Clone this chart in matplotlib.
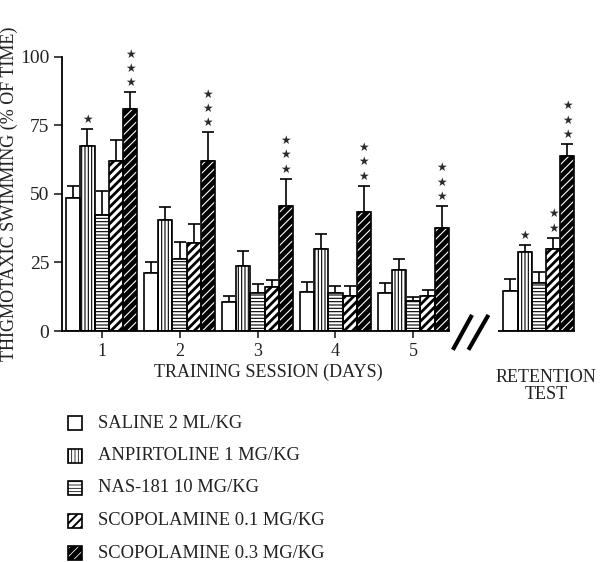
import numpy as np
import matplotlib
matplotlib.use('Agg')
from matplotlib import pyplot as plt
from matplotlib.patches import Rectangle

plt.rcParams['font.family'] = ['Liberation Serif', 'DejaVu Serif']
plt.rcParams['hatch.linewidth'] = 0.8

# データ
sessions = ['1', '2', '3', '4', '5']
groups = ['SALINE 2 ML/KG', 'ANPIRTOLINE 1 MG/KG', 'NAS-181 10 MG/KG',
          'SCOPOLAMINE 0.1 MG/KG', 'SCOPOLAMINE 0.3 MG/KG']
# 平均値 (5 セッション + retention)
saline = [48.6, 21.3, 10.7, 14.2, 13.7, 14.7]
anpirtoline = [67.4, 40.3, 23.8, 29.8, 22.3, 28.8]
nas181 = [42.3, 26.3, 13.7, 13.7, 10.8, 17.4]
scop01 = [61.9, 32.0, 15.9, 12.8, 12.8, 29.8]
scop03 = [80.9, 61.9, 45.4, 43.4, 37.5, 63.9]
# エラーバー上端
saline_top = [52.7, 25.0, 12.9, 18.0, 17.5, 19.0]
anpirtoline_top = [73.6, 45.1, 29.0, 35.5, 26.4, 31.5]
nas181_top = [51.0, 32.6, 17.2, 16.5, 12.5, 21.4]
scop01_top = [69.6, 39.0, 18.6, 16.5, 15.1, 34.0]
scop03_top = [87.1, 72.5, 55.5, 53.0, 45.6, 68.2]
# 有意差の星の数
saline_stars = [0, 0, 0, 0, 0, 0]
anpirtoline_stars = [1, 0, 0, 0, 0, 1]
nas181_stars = [0, 0, 0, 0, 0, 0]
scop01_stars = [0, 0, 0, 0, 0, 2]
scop03_stars = [3, 3, 3, 3, 3, 3]

means = [saline, anpirtoline, nas181, scop01, scop03]
tops = [saline_top, anpirtoline_top, nas181_top, scop01_top, scop03_top]
stars = [saline_stars, anpirtoline_stars, nas181_stars, scop01_stars, scop03_stars]

# スタイル
styles = [
    dict(fc='white', hatch=None, hc='black', hlw=0.8),
    dict(fc='white', hatch='|||||', hc='black', hlw=0.8),
    dict(fc='white', hatch='-----', hc='black', hlw=0.8),
    dict(fc='white', hatch='////', hc='black', hlw=2.0),
    dict(fc='black', hatch='////', hc='white', hlw=0.8),
]

x = np.array([1, 2, 3, 4, 5, 6.61])
w = 0.182

fig = plt.figure(figsize=(6, 5.62), dpi=100)
ax = fig.add_axes([62 / 600, 1 - 331 / 562, (577 - 62) / 600, (331 - 56.7) / 562])

for i in range(5):
    xi = x + (i - 2) * w
    st = styles[i]
    with plt.rc_context({'hatch.linewidth': st['hlw'], 'hatch.color': st['hc']}):
        ax.bar(xi, means[i], w, color=st['fc'], edgecolor=st['hc'], hatch=st['hatch'],
               linewidth=0, zorder=2)
    ax.bar(xi, means[i], w, fill=False, edgecolor='black', linewidth=1.2, zorder=3)
    err = np.array(tops[i]) - np.array(means[i])
    ax.errorbar(xi, means[i], yerr=[np.zeros_like(err), err], fmt='none',
                ecolor='black', elinewidth=1.2, capsize=4, capthick=1.2, zorder=1)
    for j in range(len(x)):
        for k in range(stars[i][j]):
            ax.text(xi[j], tops[i][j] + 3.5 + k * 5.2, '\u2605', ha='center', va='center',
                    fontsize=8.5, color='#2a2a2a', family='DejaVu Sans', clip_on=False)

# 軸設定
ax.set_xlim(0.491, 7.1)
ax.set_ylim(0, 100)
for s in ['top', 'right', 'bottom']:
    ax.spines[s].set_visible(False)
ax.spines['left'].set_bounds(0, 100)
ax.spines['left'].set_linewidth(1.3)
ax.set_yticks([0, 25, 50, 75, 100])
ax.set_xticks(x[:5])
ax.set_xticklabels(sessions)
ax.tick_params(axis='y', length=6, width=1.2, labelsize=14, pad=3, colors='#222222')
ax.tick_params(axis='x', length=5, width=1.2, labelsize=13, pad=4, colors='#222222')
ax.hlines(0, 0.491, 5.466, color='black', linewidth=1.3, clip_on=False, zorder=4)
ax.hlines(0, 6.08, 7.08, color='black', linewidth=1.3, clip_on=False, zorder=4)

# 軸の切れ目
ax.plot([5.52, 5.74], [-6.2, 5.2], color='black', linewidth=3, clip_on=False)
ax.plot([5.72, 5.95], [-6.2, 5.2], color='black', linewidth=3, clip_on=False)

fig.text(9 / 600, 1 - 194 / 562, 'THIGMOTAXIC SWIMMING (% OF TIME)', rotation=90,
         ha='center', va='center', fontsize=13, color='#222222')
fig.text(268 / 600, 1 - 372 / 562, 'TRAINING SESSION (DAYS)', ha='center', va='center',
         fontsize=13, color='#222222')
fig.text(546 / 600, 1 - 386 / 562, 'RETENTION\nTEST', ha='center', va='center',
         fontsize=13, color='#222222', linespacing=1.0)

# 凡例
for i, name in enumerate(groups):
    yc = 423 + i * 32.5
    st = styles[i]
    with plt.rc_context({'hatch.linewidth': st['hlw'] * 0.7, 'hatch.color': st['hc']}):
        r = Rectangle((68 / 600, 1 - (yc + 7) / 562), 14 / 600, 14 / 562,
                      transform=fig.transFigure, facecolor=st['fc'], edgecolor=st['hc'],
                      hatch=st['hatch'], linewidth=0)
    fig.add_artist(r)
    fig.add_artist(Rectangle((68 / 600, 1 - (yc + 7) / 562), 14 / 600, 14 / 562,
                             transform=fig.transFigure, fill=False, edgecolor='black',
                             linewidth=1.2))
    fig.text(98 / 600, 1 - yc / 562, name, ha='left', va='center', fontsize=13.3,
             color='#222222')

fig.savefig('out.png', dpi=100)
plt.close()
